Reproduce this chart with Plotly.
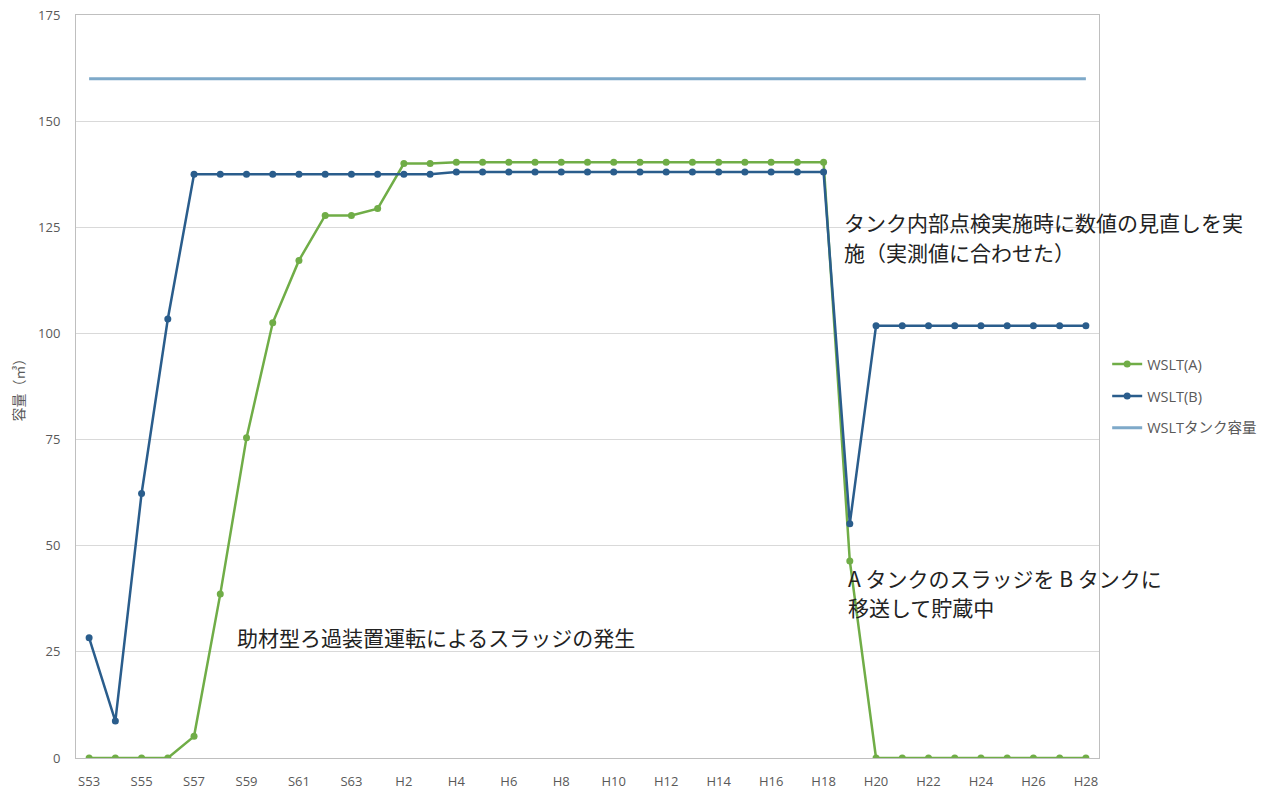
import plotly.graph_objects as go

# Categories: S53..S63, H1..H28
categories = [f"S{n}" for n in range(53, 64)] + [f"H{n}" for n in range(1, 29)]

tick_labels = ["S53", "S55", "S57", "S59", "S61", "S63", "H2", "H4", "H6", "H8",
               "H10", "H12", "H14", "H16", "H18", "H20", "H22", "H24", "H26", "H28"]

wslt_a = [0, 0, 0, 0, 5.1, 38.6, 75.4, 102.5, 117.2, 127.8, 127.8, 129.4,
          140.0, 140.0, 140.3, 140.3, 140.3, 140.3, 140.3, 140.3, 140.3, 140.3,
          140.3, 140.3, 140.3, 140.3, 140.3, 140.3, 140.3,
          46.4, 0, 0, 0, 0, 0, 0, 0, 0, 0]

wslt_b = [28.3, 8.7, 62.3, 103.4, 137.5, 137.5, 137.5, 137.5, 137.5, 137.5,
          137.5, 137.5, 137.5, 137.5, 138.0, 138.0, 138.0, 138.0, 138.0, 138.0,
          138.0, 138.0, 138.0, 138.0, 138.0, 138.0, 138.0, 138.0, 138.0,
          55.2, 101.8, 101.8, 101.8, 101.8, 101.8, 101.8, 101.8, 101.8, 101.8]

capacity = [160] * len(categories)

series_names = ["WSLT(A)", "WSLT(B)", "WSLTタンク容量"]

GREEN = "#70AD47"
BLUE = "#2A5D8C"
LIGHT = "#7EA9C9"

fig = go.Figure()
fig.add_trace(go.Scatter(x=categories, y=wslt_a, name=series_names[0], mode="lines+markers",
                         line=dict(color=GREEN, width=2.5), marker=dict(color=GREEN, size=7),
                         legendgroup="a"))
fig.add_trace(go.Scatter(x=categories, y=wslt_b, name=series_names[1], mode="lines+markers",
                         line=dict(color=BLUE, width=2.5), marker=dict(color=BLUE, size=7),
                         legendgroup="b"))
fig.add_trace(go.Scatter(x=categories, y=capacity, name=series_names[2], mode="lines",
                         line=dict(color=LIGHT, width=3), legendgroup="c"))

ann_font = dict(family="Noto Sans CJK JP", size=21, color="#222222")
ann_lines = [
    (28.7, 126.3, "タンク内部点検実施時に数値の見直しを実"),
    (28.7, 119.2, "施（実測値に合わせた）"),
    (28.85, 42.3, "A タンクのスラッジを B タンクに"),
    (28.85, 35.5, "移送して貯蔵中"),
    (5.56, 28.4, "助材型ろ過装置運転によるスラッジの発生"),
]
for ax, ay, txt in ann_lines:
    fig.add_annotation(x=ax, y=ay, xref="x", yref="y", xanchor="left", yanchor="middle",
                       text=txt, showarrow=False, align="left", font=ann_font)

fig.update_layout(
    width=1287, height=791,
    margin=dict(l=76, r=188, t=15, b=33, autoexpand=False),
    paper_bgcolor="white", plot_bgcolor="white",
    font=dict(family="Open Sans, Noto Sans CJK JP", size=12, color="#595959"),
    showlegend=True,
    legend=dict(x=1.008, y=0.487, xanchor="left", yanchor="middle",
                font=dict(size=14.5, color="#595959", family="Open Sans, Noto Sans CJK JP"),
                traceorder="grouped", tracegroupgap=10, bgcolor="rgba(0,0,0,0)"),
    xaxis=dict(type="category", categoryorder="array", categoryarray=categories,
               tickmode="array", tickvals=tick_labels, ticktext=tick_labels,
               range=[-0.5, len(categories) - 0.5], automargin=False,
               showgrid=False, showline=True, mirror=True, linecolor="#BFBFBF", linewidth=1,
               ticks="", ticklabelstandoff=11, tickfont=dict(size=13, color="#595959")),
    yaxis=dict(range=[0, 175], dtick=25, tick0=0, showgrid=True, gridcolor="#D9D9D9",
               zeroline=False, showline=True, mirror=True, linecolor="#BFBFBF", linewidth=1,
               ticks="", ticklabelstandoff=12, automargin=False,
               tickfont=dict(size=13, color="#595959"),
               title=dict(text="容量（㎥）", font=dict(size=14, color="#595959",
                                                  family="Noto Sans CJK JP"), standoff=10)),
)

fig.write_html("out.html", config={"displayModeBar": False},
               post_script="document.body.style.margin='0px';")
